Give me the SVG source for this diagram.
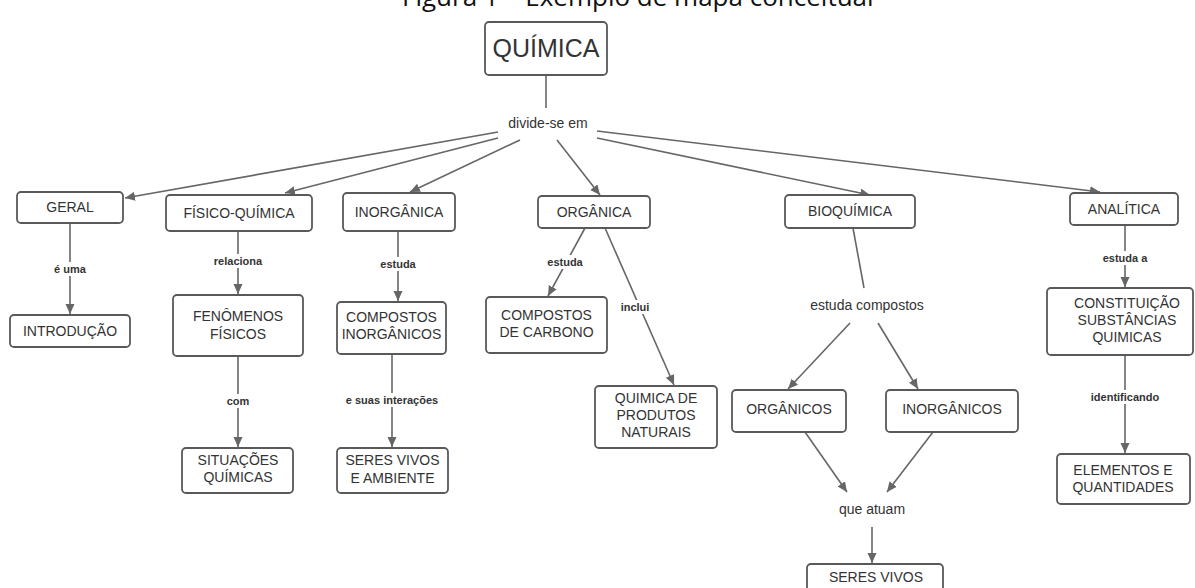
<svg xmlns="http://www.w3.org/2000/svg" width="1195" height="588" viewBox="0 0 1195 588">
<style>
.box{fill:#fff;stroke:#595959;stroke-width:1.8}
.t{font-family:"Liberation Sans",Arial,sans-serif;font-size:14px;fill:#333;text-anchor:middle}
.big{font-size:25px}
.lbl{font-family:"Liberation Sans",Arial,sans-serif;font-size:11px;font-weight:bold;fill:#333;text-anchor:middle}
.cap{font-family:"Open Sans","Liberation Sans",sans-serif;font-size:26px;fill:#111}
.ln{stroke:#666;stroke-width:1.6;fill:none}
.ar{marker-end:url(#arr)}
.bg{fill:#fff}
</style>
<defs>
<marker id="arr" markerUnits="userSpaceOnUse" markerWidth="11" markerHeight="10" refX="10" refY="4.5" orient="auto">
<path d="M0,0 L10,4.5 L0,9 z" fill="#666"/>
</marker>
</defs>
<rect width="1195" height="588" fill="#fff"/>
<text class="cap" x="402" y="6">Figura 1 – Exemplo de mapa conceitual</text>

<g id="connectors">
<line class="ln" x1="546" y1="75" x2="546" y2="108"/>
<line class="ln ar" x1="498" y1="132" x2="125" y2="198"/>
<line class="ln ar" x1="498" y1="138" x2="285" y2="193"/>
<line class="ln ar" x1="520" y1="140" x2="410" y2="192"/>
<line class="ln ar" x1="557" y1="140" x2="600" y2="195"/>
<line class="ln ar" x1="597" y1="138" x2="870" y2="195"/>
<line class="ln ar" x1="597" y1="131" x2="1100" y2="192"/>
<line class="ln ar" x1="70" y1="223" x2="70" y2="314"/>
<line class="ln ar" x1="238" y1="231" x2="238" y2="294"/>
<line class="ln ar" x1="238" y1="356" x2="238" y2="447"/>
<line class="ln ar" x1="398" y1="231" x2="398" y2="301"/>
<line class="ln ar" x1="392" y1="354" x2="392" y2="447"/>
<line class="ln ar" x1="585" y1="228" x2="548" y2="296"/>
<line class="ln ar" x1="605" y1="228" x2="674" y2="385"/>
<line class="ln" x1="853" y1="228" x2="864" y2="288"/>
<line class="ln ar" x1="850" y1="323" x2="788" y2="389"/>
<line class="ln ar" x1="878" y1="323" x2="918" y2="389"/>
<line class="ln ar" x1="805" y1="432" x2="847" y2="492"/>
<line class="ln ar" x1="933" y1="432" x2="887" y2="492"/>
<line class="ln ar" x1="872" y1="527" x2="872" y2="563"/>
<line class="ln ar" x1="1125" y1="225" x2="1125" y2="287"/>
<line class="ln ar" x1="1125" y1="355" x2="1125" y2="453"/>

<rect class="bg" x="50" y="262" width="40" height="14"/>
<text class="lbl" x="70" y="273">é uma</text>
<rect class="bg" x="211" y="254" width="54" height="14"/>
<text class="lbl" x="238" y="265">relaciona</text>
<rect class="bg" x="224" y="394" width="28" height="14"/>
<text class="lbl" x="238" y="405">com</text>
<rect class="bg" x="377" y="257" width="42" height="14"/>
<text class="lbl" x="398" y="268">estuda</text>
<rect class="bg" x="343" y="393" width="98" height="14"/>
<text class="lbl" x="392" y="404">e suas interações</text>
<rect class="bg" x="544" y="255" width="42" height="14"/>
<text class="lbl" x="565" y="266">estuda</text>
<rect class="bg" x="619" y="300" width="32" height="14"/>
<text class="lbl" x="635" y="311">inclui</text>
<rect class="bg" x="1099" y="251" width="52" height="14"/>
<text class="lbl" x="1125" y="262">estuda a</text>
<rect class="bg" x="1088" y="390" width="74" height="14"/>
<text class="lbl" x="1125" y="401">identificando</text>
</g>

<g id="quimica"><rect class="box" x="485" y="22" width="122" height="53" rx="4"/><text class="t big" x="546" y="57">QUÍMICA</text></g>
<g id="divide"><text class="t" x="548" y="128">divide-se em</text></g>
<g id="geral"><rect class="box" x="17" y="192" width="106" height="31" rx="4"/><text class="t" x="70" y="212">GERAL</text></g>
<g id="introducao"><rect class="box" x="10" y="315" width="120" height="32" rx="4"/><text class="t" x="70" y="336">INTRODUÇÃO</text></g>
<g id="fisico"><rect class="box" x="166" y="195" width="146" height="36" rx="4"/><text class="t" x="239" y="218">FÍSICO-QUÍMICA</text></g>
<g id="fenomenos"><rect class="box" x="173" y="295" width="130" height="61" rx="4"/><text class="t" x="238" y="321">FENÔMENOS</text><text class="t" x="238" y="339">FÍSICOS</text></g>
<g id="situacoes"><rect class="box" x="182" y="448" width="111" height="45" rx="4"/><text class="t" x="238" y="465">SITUAÇÕES</text><text class="t" x="238" y="482">QUÍMICAS</text></g>
<g id="inorganica"><rect class="box" x="343" y="193" width="112" height="38" rx="4"/><text class="t" x="399" y="217">INORGÂNICA</text></g>
<g id="compinorg"><rect class="box" x="337" y="302" width="109" height="52" rx="4"/><text class="t" x="391.5" y="322">COMPOSTOS</text><text class="t" x="391.5" y="339">INORGÂNICOS</text></g>
<g id="seresamb"><rect class="box" x="337" y="448" width="111" height="45" rx="4"/><text class="t" x="392.5" y="465">SERES VIVOS</text><text class="t" x="392.5" y="483">E AMBIENTE</text></g>
<g id="organica"><rect class="box" x="538" y="196" width="112" height="32" rx="4"/><text class="t" x="594" y="217">ORGÂNICA</text></g>
<g id="carbono"><rect class="box" x="486" y="297" width="121" height="56" rx="4"/><text class="t" x="546.5" y="320">COMPOSTOS</text><text class="t" x="546.5" y="337">DE CARBONO</text></g>
<g id="produtos"><rect class="box" x="595" y="386" width="122" height="62" rx="4"/><text class="t" x="656" y="403">QUIMICA DE</text><text class="t" x="656" y="420">PRODUTOS</text><text class="t" x="656" y="437">NATURAIS</text></g>
<g id="bioquimica"><rect class="box" x="785" y="195" width="130" height="33" rx="4"/><text class="t" x="850" y="216">BIOQUÍMICA</text></g>
<g id="estudacompostos"><text class="t" x="867" y="310">estuda compostos</text></g>
<g id="organicos"><rect class="box" x="732" y="390" width="114" height="42" rx="4"/><text class="t" x="789" y="414">ORGÂNICOS</text></g>
<g id="inorganicos"><rect class="box" x="886" y="390" width="132" height="42" rx="4"/><text class="t" x="952" y="414">INORGÂNICOS</text></g>
<g id="queatuam"><text class="t" x="872" y="514">que atuam</text></g>
<g id="seresvivos"><rect class="box" x="807" y="564" width="136" height="34" rx="4"/><text class="t" x="876" y="582">SERES VIVOS</text></g>
<g id="analitica"><rect class="box" x="1070" y="193" width="108" height="32" rx="4"/><text class="t" x="1124" y="214">ANALÍTICA</text></g>
<g id="constituicao"><rect class="box" x="1047" y="288" width="146" height="67" rx="4"/><text class="t" x="1127" y="308">CONSTITUIÇÃO</text><text class="t" x="1127" y="325">SUBSTÂNCIAS</text><text class="t" x="1127" y="342">QUIMICAS</text></g>
<g id="elementos"><rect class="box" x="1057" y="454" width="133" height="50" rx="4"/><text class="t" x="1123" y="475">ELEMENTOS E</text><text class="t" x="1123" y="492">QUANTIDADES</text></g>
</svg>
